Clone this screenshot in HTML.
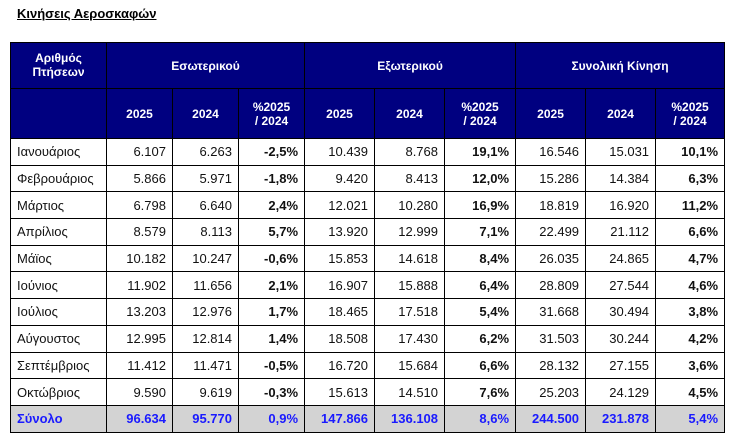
<!DOCTYPE html>
<html><head><meta charset="utf-8"><style>
body{margin:0;background:#fff;font-family:"Liberation Sans","DejaVu Sans",sans-serif;}
.t{position:absolute;left:17px;top:6px;font-size:13px;font-weight:bold;text-decoration:underline;color:#000;}
table{position:absolute;left:10px;top:42px;border-collapse:collapse;table-layout:fixed;width:714px;}
td,th{border:1px solid #000;padding:0 6px;font-size:13px;overflow:hidden;white-space:nowrap;}
th{background:#000080;color:#fff;font-size:12px;font-weight:bold;text-align:center;line-height:14px;}
tr.h1 th{height:45px}
tr.h1 th.f{vertical-align:top;padding-top:8px;height:37px}
tr.h2 th{height:49px}
tbody td{height:25.7px;text-align:right;color:#111}
tbody td:first-child{text-align:left}
td.b{font-weight:bold}
tr.s td{background:#d3d3d3;color:#1a1aff;font-weight:bold}
</style></head><body>
<div class="t">Κινήσεις Αεροσκαφών</div>
<table>
<colgroup><col style="width:96px"><col style="width:66px"><col style="width:66px"><col style="width:66px"><col style="width:70px"><col style="width:70px"><col style="width:71px"><col style="width:70px"><col style="width:70px"><col style="width:69px"></colgroup>
<thead>
<tr class="h1"><th class="f">Αριθμός<br>Πτήσεων</th><th colspan="3">Εσωτερικού</th><th colspan="3">Εξωτερικού</th><th colspan="3">Συνολική Κίνηση</th></tr>
<tr class="h2"><th></th><th>2025</th><th>2024</th><th>%2025<br>/ 2024</th><th>2025</th><th>2024</th><th>%2025<br>/ 2024</th><th>2025</th><th>2024</th><th>%2025<br>/ 2024</th></tr>
</thead>
<tbody>
<tr><td>Ιανουάριος</td><td>6.107</td><td>6.263</td><td class="b">-2,5%</td><td>10.439</td><td>8.768</td><td class="b">19,1%</td><td>16.546</td><td>15.031</td><td class="b">10,1%</td></tr>
<tr><td>Φεβρουάριος</td><td>5.866</td><td>5.971</td><td class="b">-1,8%</td><td>9.420</td><td>8.413</td><td class="b">12,0%</td><td>15.286</td><td>14.384</td><td class="b">6,3%</td></tr>
<tr><td>Μάρτιος</td><td>6.798</td><td>6.640</td><td class="b">2,4%</td><td>12.021</td><td>10.280</td><td class="b">16,9%</td><td>18.819</td><td>16.920</td><td class="b">11,2%</td></tr>
<tr><td>Απρίλιος</td><td>8.579</td><td>8.113</td><td class="b">5,7%</td><td>13.920</td><td>12.999</td><td class="b">7,1%</td><td>22.499</td><td>21.112</td><td class="b">6,6%</td></tr>
<tr><td>Μάϊος</td><td>10.182</td><td>10.247</td><td class="b">-0,6%</td><td>15.853</td><td>14.618</td><td class="b">8,4%</td><td>26.035</td><td>24.865</td><td class="b">4,7%</td></tr>
<tr><td>Ιούνιος</td><td>11.902</td><td>11.656</td><td class="b">2,1%</td><td>16.907</td><td>15.888</td><td class="b">6,4%</td><td>28.809</td><td>27.544</td><td class="b">4,6%</td></tr>
<tr><td>Ιούλιος</td><td>13.203</td><td>12.976</td><td class="b">1,7%</td><td>18.465</td><td>17.518</td><td class="b">5,4%</td><td>31.668</td><td>30.494</td><td class="b">3,8%</td></tr>
<tr><td>Αύγουστος</td><td>12.995</td><td>12.814</td><td class="b">1,4%</td><td>18.508</td><td>17.430</td><td class="b">6,2%</td><td>31.503</td><td>30.244</td><td class="b">4,2%</td></tr>
<tr><td>Σεπτέμβριος</td><td>11.412</td><td>11.471</td><td class="b">-0,5%</td><td>16.720</td><td>15.684</td><td class="b">6,6%</td><td>28.132</td><td>27.155</td><td class="b">3,6%</td></tr>
<tr><td>Οκτώβριος</td><td>9.590</td><td>9.619</td><td class="b">-0,3%</td><td>15.613</td><td>14.510</td><td class="b">7,6%</td><td>25.203</td><td>24.129</td><td class="b">4,5%</td></tr>
<tr class="s"><td>Σύνολο</td><td>96.634</td><td>95.770</td><td>0,9%</td><td>147.866</td><td>136.108</td><td>8,6%</td><td>244.500</td><td>231.878</td><td>5,4%</td></tr>
</tbody>
</table>
</body></html>
